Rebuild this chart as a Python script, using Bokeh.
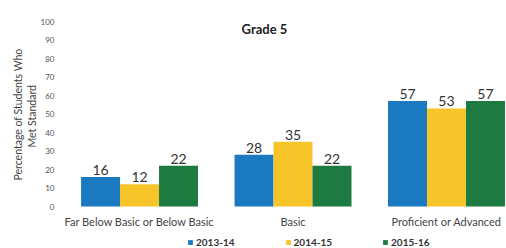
from bokeh.plotting import figure
from bokeh.models import ColumnDataSource, Range1d, FixedTicker, Legend, LegendItem, Label, Title
from bokeh.core.properties import value
from bokeh.embed import file_html
from bokeh.resources import INLINE

categories = ["Far Below Basic or Below Basic", "Basic", "Proficient or Advanced"]
years = ["2013-14", "2014-15", "2015-16"]
v_2013_14 = [16, 28, 57]
v_2014_15 = [12, 35, 53]
v_2015_16 = [22, 22, 57]
series = [v_2013_14, v_2014_15, v_2015_16]
colors = ["#1a79c1", "#f7c52a", "#1d7a41"]
offsets = [-0.254, 0.0, 0.254]
bar_w = 0.254
FONT = "Lato"

p = figure(width=506, height=248, output_backend="svg", toolbar_location=None,
           x_range=Range1d(-0.502, 2.391), y_range=Range1d(-22.7, 100),
           min_border_top=21, min_border_right=0, min_border_left=62, min_border_bottom=0)
p.outline_line_color = None
p.xgrid.visible = False
p.ygrid.visible = False
p.xaxis.visible = False

items = []
for s, c, off, yr in zip(series, colors, offsets, years):
    xs = [i + off for i in range(len(categories))]
    src = ColumnDataSource(dict(x=xs, top=s, lab=[str(v) for v in s]))
    r = p.vbar(x="x", top="top", width=bar_w, bottom=0, source=src,
               fill_color=c, line_color=None)
    p.text(x="x", y="top", text="lab", source=src, text_align="center",
           text_baseline="bottom", y_offset=-2, text_font=value(FONT),
           text_font_size="14px", text_color="#333333")
    items.append(LegendItem(label=yr, renderers=[r]))

# category labels under the groups
cat_src = ColumnDataSource(dict(x=list(range(len(categories))),
                                y=[-8.1] * len(categories), t=categories))
p.text(x="x", y="y", text="t", source=cat_src, text_align="center",
       text_baseline="middle", text_font=value(FONT), text_font_size="11px",
       text_color="#444444")

# y axis
p.yaxis.ticker = FixedTicker(ticks=list(range(0, 101, 10)))
p.yaxis.axis_line_color = None
p.yaxis.major_tick_line_color = None
p.yaxis.minor_tick_line_color = None
p.yaxis.major_tick_out = 0
p.yaxis.major_tick_in = 0
p.yaxis.minor_tick_out = 0
p.yaxis.minor_tick_in = 0
p.yaxis.major_label_standoff = 8
p.yaxis.major_label_text_font = FONT
p.yaxis.major_label_text_font_size = "8px"
p.yaxis.major_label_text_color = "#555555"

# y axis title as two lines (side-panel titles)
for txt, off, so in [("Met Standard", 101, 0), ("Percentage of Students Who", 68, 0)]:
    p.add_layout(Title(text=txt, align="left", offset=off, standoff=so,
                       text_font=FONT, text_font_size="10.5px",
                       text_font_style="normal", text_color="#444444"), "left")

# title inside plot area
p.add_layout(Label(x=0.814, y=96.2, text="Grade 5",
                   text_font=FONT, text_font_size="13px", text_font_style="bold",
                   text_align="center", text_baseline="middle", text_color="#222222"))

legend = Legend(items=items, orientation="horizontal", location=(125, 0),
                glyph_width=6, glyph_height=6, label_standoff=3, spacing=50,
                padding=2, margin=0, border_line_color=None, background_fill_alpha=0,
                label_text_font=FONT, label_text_font_size="10px",
                label_text_font_style="bold", label_text_color="#333333")
p.add_layout(legend, "center")

open("out.html", "w").write(file_html(p, INLINE))
